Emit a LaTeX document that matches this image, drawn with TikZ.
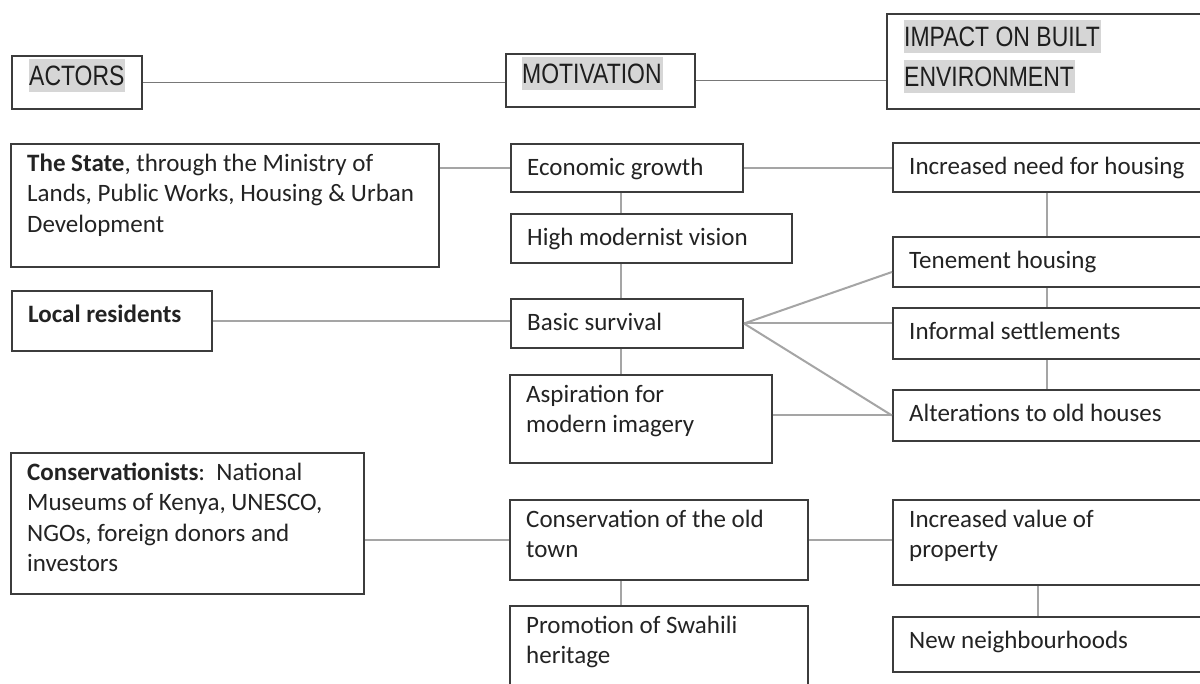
\documentclass[tikz,border=0pt]{standalone}
\usepackage{fontspec}
\setmainfont{Carlito}
\newfontfamily\hdfont[FakeStretch=0.82]{Liberation Sans}
\definecolor{bordc}{RGB}{60,60,60}
\definecolor{conc}{RGB}{165,165,165}
\definecolor{hconc}{RGB}{120,120,120}
\definecolor{txc}{RGB}{35,35,35}
\definecolor{hdc}{RGB}{30,30,30}
\definecolor{hlc}{RGB}{214,214,214}
\setlength\fboxsep{0pt}
\newcommand\hl[1]{\colorbox{hlc}{\rule[-7pt]{0pt}{33pt}#1\hspace{1pt}}}
\newcommand\mybox[6]{%
  \node[bxs, anchor=north west, minimum width={#4-#2}, minimum height={#5-#3}] (#1) at (#2,-#3) {};
  \node[tx] (#1-t) at ({#2+17},{-#3-10.6}) {#6};}
\begin{document}
\begin{tikzpicture}[x=1pt,y=1pt,
  bxs/.style={draw=bordc, line width=2pt, inner sep=0pt, rectangle},
  tx/.style={inner sep=0pt, anchor=north west, align=left, text=txc,
    font=\fontsize{25}{30.5}\selectfont, execute at begin node=\strut},
  hd/.style={inner sep=0pt, anchor=north west, align=left, text=hdc,
    font=\hdfont\fontsize{28}{40}\selectfont},
  con/.style={draw=conc, line width=2pt},
  hcon/.style={draw=hconc, line width=1.5pt}]
\useasboundingbox (0,0) rectangle (1200,-684);
\clip (0,0) rectangle (1200,-684);
\fill[white] (0,0) rectangle (1200,-684);

% header row
\node[bxs, anchor=north west, minimum width=130, minimum height=53] (actors) at (11,-55) {};
\node[hd] (actors-t) at (29,-59) {\hl{ACTORS}};
\node[bxs, anchor=north west, minimum width=189, minimum height=53] (motiv) at (505,-53) {};
\node[hd] (motiv-t) at (522,-57) {\hl{MOTIVATION}};
\node[bxs, anchor=north west, minimum width=330, minimum height=95] (impact) at (886,-13) {};
\node[hd] (impact-t) at (904,-20) {\hl{IMPACT ON BUILT}\\\hl{ENVIRONMENT}};

% actors
\mybox{state}{10}{143}{438}{266}{\textbf{The State}, through the Ministry of\\Lands, Public Works, Housing \& Urban\\Development}
\mybox{local}{11}{290}{211}{350}{\textbf{Local residents}}
\mybox{consa}{10}{452}{363}{593}{\textbf{Conservationists}:\ \ National\\Museums of Kenya, UNESCO,\\NGOs, foreign donors and\\investors}

% motivation
\mybox{econ}{510}{143}{742}{191}{Economic growth}
\mybox{high}{510}{213}{791}{262}{High modernist vision}
\mybox{basic}{510}{298}{742}{347}{Basic survival}
\mybox{aspir}{509}{374}{771}{462}{Aspiration for\\modern imagery}
\mybox{consv}{509}{499}{807}{579}{Conservation of the old\\town}
\mybox{promo}{509}{605}{807}{700}{Promotion of Swahili\\heritage}

% impact
\mybox{incr}{892}{142}{1210}{191}{Increased need for housing}
\mybox{tene}{892}{236}{1210}{286}{Tenement housing}
\mybox{info}{892}{307}{1210}{358}{Informal settlements}
\mybox{alter}{892}{389}{1210}{440}{Alterations to old houses}
\mybox{ivp}{892}{499}{1210}{584}{Increased value of\\property}
\mybox{newn}{892}{616}{1210}{671}{New neighbourhoods}

% header connectors
\draw[hcon] (actors.east) -- (actors.east -| motiv.west);
\draw[hcon] (motiv.east) -- (motiv.east -| impact.west);

% body connectors
\draw[con] (econ.west -| state.east) -- (econ.west);
\draw[con] (econ.east) -- (econ.east -| incr.west);
\draw[con] ([xshift=111pt]econ.south west) -- ([xshift=111pt]econ.south west |- high.north);
\draw[con] ([xshift=111pt]high.south west) -- ([xshift=111pt]high.south west |- basic.north);
\draw[con] ([xshift=111pt]basic.south west) -- ([xshift=111pt]basic.south west |- aspir.north);
\draw[con] (local.east) -- (local.east -| basic.west);
\draw[con] (basic.east) -- ([yshift=-10pt]tene.west);
\draw[con] (basic.east) -- (basic.east -| info.west);
\draw[con] (basic.east) -- (alter.west);
\draw[con] (alter.west -| aspir.east) -- (alter.west);
\draw[con] ([xshift=155pt]incr.south west) -- ([xshift=155pt]incr.south west |- tene.north);
\draw[con] ([xshift=155pt]tene.south west) -- ([xshift=155pt]tene.south west |- info.north);
\draw[con] ([xshift=155pt]info.south west) -- ([xshift=155pt]info.south west |- alter.north);
\draw[con] (consv.west -| consa.east) -- (consv.west);
\draw[con] (consv.east) -- (consv.east -| ivp.west);
\draw[con] ([xshift=112pt]consv.south west) -- ([xshift=112pt]consv.south west |- promo.north);
\draw[con] ([xshift=146pt]ivp.south west) -- ([xshift=146pt]ivp.south west |- newn.north);
\end{tikzpicture}
\end{document}
